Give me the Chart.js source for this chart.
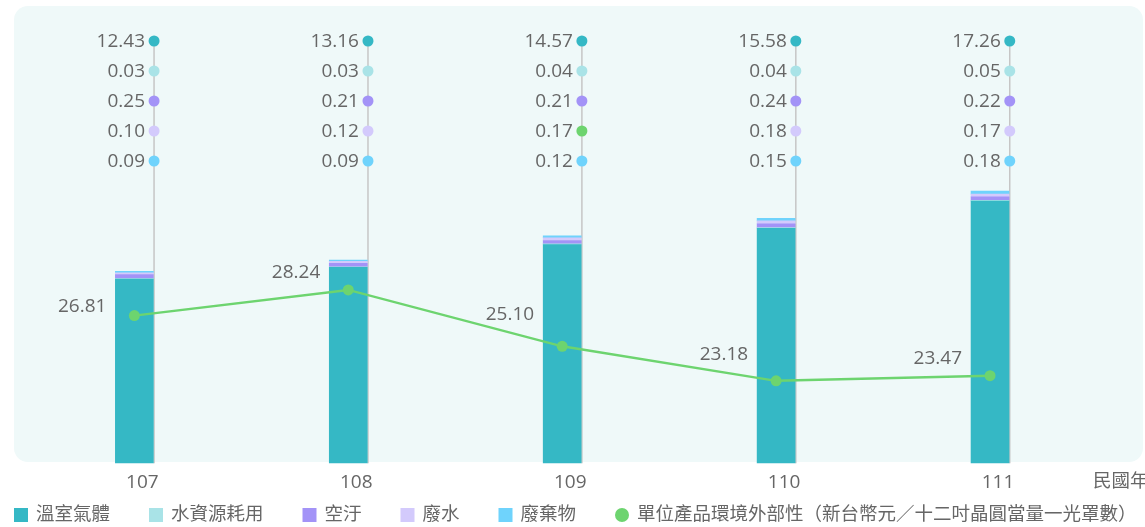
<!DOCTYPE html>
<html>
<head>
<meta charset="utf-8">
<script src="https://cdn.jsdelivr.net/npm/chart.js@4"></script>
<style>
  html, body { margin: 0; padding: 0; background: #fff; }
  #wrap { width: 1145px; height: 527px; position: relative; }
</style>
</head>
<body>
<div id="wrap"><canvas id="chart"></canvas></div>
<script>
'use strict';

// Data
const years = ['107', '108', '109', '110', '111'];
const greenhouse = [12.43, 13.16, 14.57, 15.58, 17.26];
const waterUse = [0.03, 0.03, 0.04, 0.04, 0.05];
const airPollution = [0.25, 0.21, 0.21, 0.24, 0.22];
const wasteWater = [0.10, 0.12, 0.17, 0.18, 0.17];
const waste = [0.09, 0.09, 0.12, 0.15, 0.18];
const unitCost = [26.81, 28.24, 25.10, 23.18, 23.47];

const seriesNames = ['溫室氣體', '水資源耗用', '空汙', '廢水', '廢棄物'];
const lineName = '單位產品環境外部性（新台幣元／十二吋晶圓當量一光罩數）';
const axisName = '民國年';

const barColors = ['#35b8c5', '#a9e3e7', '#a393f7', '#d3cafc', '#6fd3fc'];
const lineColor = '#6dd46f';
const textColor = '#666666';
const fontFamily = "'Open Sans', 'Noto Sans CJK TC', sans-serif";

// dot in the 109 column for 廢水 is green in the original
const dotColorFix = { '3-2': lineColor };
// how far each line label sits above its point
const lineLabelLift = [9, 17, 32, 26, 17];

// background panel
const panelPlugin = {
  id: 'panel',
  beforeDraw(chart) {
    const ctx = chart.ctx;
    ctx.save();
    ctx.fillStyle = '#eff9f9';
    ctx.beginPath();
    ctx.roundRect(14, 6, 1129, 456, 14);
    ctx.fill();
    ctx.restore();
  }
};

// gray stem + value dots above each bar
const stemPlugin = {
  id: 'stems',
  beforeDatasetsDraw(chart) {
    const ctx = chart.ctx;
    const meta = chart.getDatasetMeta(0);
    ctx.save();
    ctx.strokeStyle = '#c6c6c6';
    ctx.lineWidth = 1.5;
    meta.data.forEach((bar) => {
      let x = bar.x + bar.width / 2 + 0.7;
      ctx.beginPath();
      ctx.moveTo(x, 41);
      ctx.lineTo(x, chart.chartArea.bottom);
      ctx.stroke();
    });
    ctx.restore();
  },
  afterDatasetsDraw(chart) {
    const ctx = chart.ctx;
    const meta = chart.getDatasetMeta(0);
    ctx.save();
    ctx.font = '19px ' + fontFamily;
    ctx.textAlign = 'right';
    ctx.textBaseline = 'middle';
    meta.data.forEach((bar, i) => {
      let x = bar.x + bar.width / 2 + 0.7;
      for (let d = 0; d < seriesNames.length; d++) {
        let y = 41 + d * 30;
        let value = chart.data.datasets[d].data[i];
        ctx.fillStyle = dotColorFix[d + '-' + i] || barColors[d];
        ctx.beginPath();
        ctx.arc(x, y, 5.5, 0, Math.PI * 2);
        ctx.fill();
        ctx.fillStyle = textColor;
        ctx.fillText(value.toFixed(2), x - 9, y + 1);
      }
    });

    // line labels
    const lineMeta = chart.getDatasetMeta(seriesNames.length);
    lineMeta.data.forEach((pt, i) => {
      ctx.fillText(unitCost[i].toFixed(2), pt.x - 28, pt.y - lineLabelLift[i]);
    });
    ctx.restore();
  },
  afterDraw(chart) {
    const ctx = chart.ctx;
    ctx.save();
    ctx.fillStyle = textColor;
    ctx.textBaseline = 'middle';
    ctx.textAlign = 'left';
    ctx.font = '18.5px ' + fontFamily;
    ctx.fillText(axisName, 1093, 482);

    // legend
    let x = 14;
    let y = 515;
    const items = seriesNames.concat([lineName]);
    items.forEach((name, i) => {
      if (i < seriesNames.length) {
        ctx.fillStyle = barColors[i];
        ctx.fillRect(x, y - 7, 14, 14);
      } else {
        ctx.fillStyle = lineColor;
        ctx.beginPath();
        ctx.arc(x + 7, y, 7, 0, Math.PI * 2);
        ctx.fill();
      }
      ctx.fillStyle = textColor;
      ctx.fillText(name, x + 22, y);
      x += 22 + ctx.measureText(name).width + 39;
    });
    ctx.restore();
  }
};

const barSets = [greenhouse, waterUse, airPollution, wasteWater, waste].map((arr, i) => ({
  type: 'bar',
  label: seriesNames[i],
  data: arr,
  backgroundColor: barColors[i],
  borderWidth: 0,
  barThickness: 38,
  stack: 'env',
  yAxisID: 'y',
  order: 2
}));

const lineSet = {
  type: 'line',
  label: lineName,
  data: unitCost,
  borderColor: lineColor,
  backgroundColor: lineColor,
  borderWidth: 2.5,
  pointRadius: 5.5,
  pointBackgroundColor: lineColor,
  pointBorderWidth: 0,
  tension: 0,
  yAxisID: 'y1',
  order: 0
};

const ctx = document.getElementById('chart').getContext('2d');

let myChart = new Chart(ctx, {
  data: {
    labels: years,
    datasets: barSets.concat([lineSet])
  },
  options: {
    responsive: true,
    maintainAspectRatio: false,
    animation: false,
    layout: {
      padding: { left: 27.4, right: 48, top: 12, bottom: 25 }
    },
    plugins: {
      legend: { display: false },
      tooltip: { enabled: false }
    },
    scales: {
      x: {
        stacked: true,
        grid: { display: false, drawTicks: false },
        border: { display: false },
        ticks: {
          color: textColor,
          font: { family: fontFamily, size: 19 },
          padding: 8,
          labelOffset: 8
        }
      },
      y: {
        stacked: true,
        display: false,
        min: 1,
        max: 29
      },
      y1: {
        display: false,
        min: 18.6,
        max: 43.7
      }
    }
  },
  plugins: [panelPlugin, stemPlugin]
});
</script>
</body>
</html>
